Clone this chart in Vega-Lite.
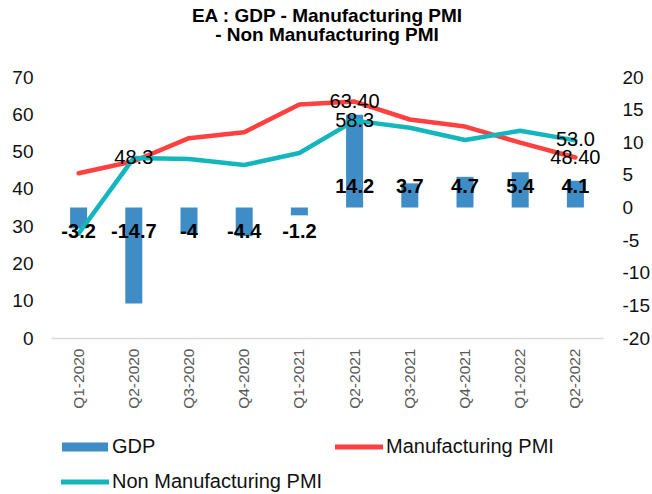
{
  "$schema": "https://vega.github.io/schema/vega-lite/v6.json",
  "width": 552,
  "height": 261,
  "autosize": {"type": "none"},
  "padding": {"left": 51, "top": 77, "right": 49, "bottom": 156},
  "background": "white",
  "title": {
    "text": ["EA : GDP - Manufacturing  PMI", "- Non Manufacturing  PMI"],
    "font": "Liberation Sans",
    "fontSize": 19,
    "fontWeight": "bold",
    "color": "#000000",
    "anchor": "middle",
    "offset": 23,
    "lineHeight": 19
  },
  "config": {"view": {"stroke": null}, "font": "Liberation Sans"},
  "data": {
    "values": [
      {"q": "Q1-2020", "series": "GDP", "value": -3.2},
      {"q": "Q2-2020", "series": "GDP", "value": -14.7},
      {"q": "Q3-2020", "series": "GDP", "value": -4},
      {"q": "Q4-2020", "series": "GDP", "value": -4.4},
      {"q": "Q1-2021", "series": "GDP", "value": -1.2},
      {"q": "Q2-2021", "series": "GDP", "value": 14.2},
      {"q": "Q3-2021", "series": "GDP", "value": 3.7},
      {"q": "Q4-2021", "series": "GDP", "value": 4.7},
      {"q": "Q1-2022", "series": "GDP", "value": 5.4},
      {"q": "Q2-2022", "series": "GDP", "value": 4.1},
      {"q": "Q1-2020", "series": "Manufacturing PMI", "value": 44.2},
      {"q": "Q2-2020", "series": "Manufacturing PMI", "value": 47.4},
      {"q": "Q3-2020", "series": "Manufacturing PMI", "value": 53.6},
      {"q": "Q4-2020", "series": "Manufacturing PMI", "value": 55.2},
      {"q": "Q1-2021", "series": "Manufacturing PMI", "value": 62.6},
      {"q": "Q2-2021", "series": "Manufacturing PMI", "value": 63.4},
      {"q": "Q3-2021", "series": "Manufacturing PMI", "value": 58.6},
      {"q": "Q4-2021", "series": "Manufacturing PMI", "value": 56.7},
      {"q": "Q1-2022", "series": "Manufacturing PMI", "value": 52.4},
      {"q": "Q2-2022", "series": "Manufacturing PMI", "value": 48.4},
      {"q": "Q1-2020", "series": "Non Manufacturing PMI", "value": 28.0},
      {"q": "Q2-2020", "series": "Non Manufacturing PMI", "value": 48.3},
      {"q": "Q3-2020", "series": "Non Manufacturing PMI", "value": 48.0},
      {"q": "Q4-2020", "series": "Non Manufacturing PMI", "value": 46.4},
      {"q": "Q1-2021", "series": "Non Manufacturing PMI", "value": 49.6},
      {"q": "Q2-2021", "series": "Non Manufacturing PMI", "value": 58.3},
      {"q": "Q3-2021", "series": "Non Manufacturing PMI", "value": 56.4},
      {"q": "Q4-2021", "series": "Non Manufacturing PMI", "value": 53.1},
      {"q": "Q1-2022", "series": "Non Manufacturing PMI", "value": 55.6},
      {"q": "Q2-2022", "series": "Non Manufacturing PMI", "value": 53.0}
    ]
  },
  "encoding": {
    "x": {
      "field": "q",
      "type": "ordinal",
      "sort": null,
      "scale": {"type": "band", "paddingInner": 0, "paddingOuter": 0},
      "axis": {
        "title": null,
        "labelAngle": -90,
        "labelAlign": "right",
        "labelBaseline": "middle",
        "labelFontSize": 15.5,
        "labelColor": "#595959",
        "labelPadding": 10,
        "ticks": false,
        "grid": false,
        "domainColor": "#d9d9d9",
        "domainWidth": 1.5
      }
    }
  },
  "layer": [
    {
      "transform": [{"filter": "datum.series === 'GDP'"}],
      "mark": {"type": "bar", "size": 17},
      "encoding": {
        "y": {
          "field": "value",
          "type": "quantitative",
          "scale": {"domain": [-20, 20], "nice": false, "zero": false},
          "axis": {
            "orient": "right",
            "title": null,
            "values": [-20, -15, -10, -5, 0, 5, 10, 15, 20],
            "domain": false,
            "ticks": false,
            "grid": false,
            "labelFontSize": 19,
            "labelColor": "#111111",
            "labelAlign": "left",
            "labelPadding": 19,
            "labelExpr": "toString(datum.value)"
          }
        },
        "color": {
          "field": "series",
          "type": "nominal",
          "scale": {
            "domain": ["GDP", "Manufacturing PMI", "Non Manufacturing PMI"],
            "range": ["#3E8DC6", "#FF4040", "#14B6BE"]
          },
          "legend": {
            "orient": "none",
            "direction": "horizontal",
            "legendX": 24,
            "legendY": 360,
            "columns": 2,
            "title": null,
            "values": ["GDP", "Manufacturing PMI", "Non Manufacturing PMI"],
            "labelFontSize": 20,
            "labelColor": "#111111",
            "labelOffset": 17,
            "labelLimit": 400,
            "symbolSize": 400,
            "rowPadding": 15,
            "columnPadding": 12,
            "padding": 0,
            "encode": {
              "symbols": {
                "update": {
                  "shape": {"signal": "datum.value === 'GDP' ? 'M-2.3,-0.46H2.3V0.46H-2.3Z' : 'M-2.4,-0.25H2.4V0.25H-2.4Z'"},
                  "fill": {"scale": "color", "field": "value"},
                  "stroke": {"value": "transparent"},
                  "strokeWidth": {"value": 0},
                  "opacity": {"value": 1}
                }
              }
            }
          }
        }
      }
    },
    {
      "transform": [{"filter": "datum.series !== 'GDP'"}],
      "mark": {"type": "line", "strokeWidth": 4.5, "strokeJoin": "round", "strokeCap": "round"},
      "encoding": {
        "y": {
          "field": "value",
          "type": "quantitative",
          "scale": {"domain": [0, 70], "nice": false},
          "axis": {
            "orient": "left",
            "title": null,
            "values": [0, 10, 20, 30, 40, 50, 60, 70],
            "domain": false,
            "ticks": false,
            "grid": false,
            "labelFontSize": 19,
            "labelColor": "#111111",
            "labelPadding": 18
          }
        },
        "color": {"field": "series", "type": "nominal"}
      }
    },
    {
      "transform": [{"filter": "datum.series === 'GDP' && datum.value > 0"}],
      "mark": {"type": "text", "fontSize": 20, "fontWeight": "bold", "dy": -21, "baseline": "middle", "color": "#000000"},
      "encoding": {
        "y": {"datum": 0, "type": "quantitative", "scale": {"domain": [-20, 20], "nice": false, "zero": false}, "axis": null},
        "text": {"field": "value", "type": "nominal"}
      }
    },
    {
      "transform": [{"filter": "datum.series === 'GDP' && datum.value < 0"}],
      "mark": {"type": "text", "fontSize": 20, "fontWeight": "bold", "dy": 24, "baseline": "middle", "color": "#000000"},
      "encoding": {
        "y": {"datum": 0, "type": "quantitative", "scale": {"domain": [-20, 20], "nice": false, "zero": false}, "axis": null},
        "text": {"field": "value", "type": "nominal"}
      }
    },
    {
      "transform": [{"filter": "datum.series === 'Manufacturing PMI' && (datum.q === 'Q2-2021' || datum.q === 'Q2-2022')"}],
      "mark": {"type": "text", "fontSize": 20, "baseline": "middle", "color": "#000000"},
      "encoding": {
        "y": {"field": "value", "type": "quantitative", "scale": {"domain": [0, 70], "nice": false}, "axis": null},
        "text": {"field": "value", "type": "quantitative", "format": ".2f"}
      }
    },
    {
      "transform": [{"filter": "datum.series === 'Non Manufacturing PMI' && (datum.q === 'Q2-2020' || datum.q === 'Q2-2021' || datum.q === 'Q2-2022')"}],
      "mark": {"type": "text", "fontSize": 20, "baseline": "middle", "color": "#000000"},
      "encoding": {
        "y": {"field": "value", "type": "quantitative", "scale": {"domain": [0, 70], "nice": false}, "axis": null},
        "text": {"field": "value", "type": "quantitative", "format": ".1f"}
      }
    }
  ],
  "resolve": {"scale": {"y": "independent"}}
}
